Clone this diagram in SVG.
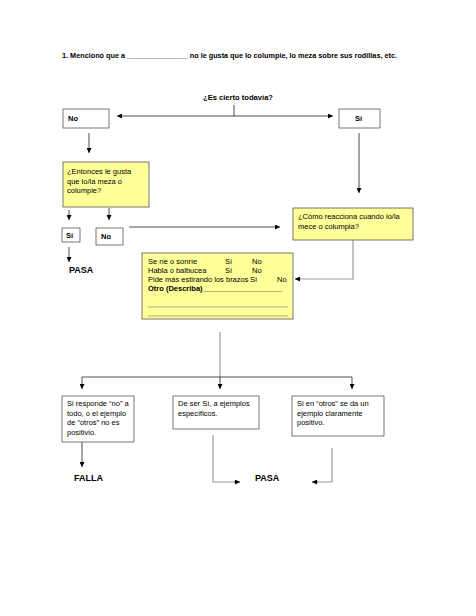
<svg xmlns="http://www.w3.org/2000/svg" width="476" height="616" viewBox="0 0 476 616">
<style>
text{font-family:"Liberation Sans",Arial,sans-serif;font-size:7.5px;fill:#000}
.b{font-weight:bold}
.big{font-weight:bold;font-size:9px}
.box{fill:#fff;stroke:#555;stroke-width:0.8}
.yel{fill:#ffff99;stroke:#555;stroke-width:0.8}
.c{fill:none;stroke:#222;stroke-width:0.8}
.g{fill:none;stroke:#999;stroke-width:1.2}
</style>
<defs>
<marker id="a" viewBox="0 0 6 6" refX="6" refY="3" markerWidth="5" markerHeight="5" markerUnits="userSpaceOnUse" orient="auto"><path d="M0,0L6,3L0,6z" fill="#000"/></marker>
</defs>
<rect width="476" height="616" fill="#fff"/>
<text class="b" x="62" y="58" textLength="335" lengthAdjust="spacingAndGlyphs">1. Mencionó que a _______________ no le gusta que lo columpie, lo meza sobre sus rodillas, etc.</text>
<text class="b" x="203" y="100" textLength="70" lengthAdjust="spacingAndGlyphs">¿Es cierto todavía?</text>
<g id="connectors">
<path class="c" d="M234,105V116"/>
<path class="c" d="M234,116H117" marker-end="url(#a)"/>
<path class="c" d="M234,116H333" marker-end="url(#a)"/>
<path class="c" d="M89,133V153" marker-end="url(#a)"/>
<path class="c" d="M359,133V193" marker-end="url(#a)"/>
<path class="c" d="M69,210V220" marker-end="url(#a)"/>
<path class="c" d="M109,208V220" marker-end="url(#a)"/>
<path class="c" d="M129,227H280" marker-end="url(#a)"/>
<path class="c" d="M69,247V262" marker-end="url(#a)"/>
<path class="g" d="M353,240V279H296"/>
<path class="c" d="M300,279H295" marker-end="url(#a)"/>
<path class="g" d="M220,332V377"/>
<path class="c" d="M82,377H352"/>
<path class="c" d="M82,377V389" marker-end="url(#a)"/>
<path class="c" d="M220,377V389" marker-end="url(#a)"/>
<path class="c" d="M352,377V389" marker-end="url(#a)"/>
<path class="c" d="M82,442V467" marker-end="url(#a)"/>
<path class="g" d="M213,435V482H236"/>
<path class="c" d="M234,482H240" marker-end="url(#a)"/>
<path class="g" d="M332,448V482H316"/>
<path class="c" d="M318,482H312" marker-end="url(#a)"/>
</g>
<g id="no1"><rect class="box" x="63" y="109" width="46" height="19"/><text class="b" x="68" y="121">No</text></g>
<g id="si1"><rect class="box" x="339" y="109" width="41" height="19"/><text class="b" x="355" y="121">Sí</text></g>
<g id="entonces"><rect class="yel" x="63" y="162" width="86" height="45"/>
<text x="67" y="174">¿Entonces  le gusta</text><text x="67" y="183.5">que lo/la meza o</text><text x="67" y="193">columpie?</text></g>
<g id="si2"><rect class="box" x="62" y="228" width="18" height="14"/><text class="b" x="66" y="238">Sí</text></g>
<g id="no2"><rect class="box" x="96" y="228" width="27" height="17"/><text class="b" x="101" y="239">No</text></g>
<g id="pasa1"><text class="big" x="69" y="273">PASA</text></g>
<g id="reacciona"><rect class="yel" x="293" y="208" width="120" height="32"/>
<text x="298" y="219">¿Cómo reacciona cuando lo/la</text><text x="298" y="228.5">mece o columpia?</text></g>
<g id="lista"><rect class="yel" x="142" y="253" width="151" height="66"/>
<text x="148" y="264">Se ríe o sonríe</text><text x="225" y="264">Sí</text><text x="252" y="264">No</text>
<text x="148" y="273">Habla o balbucea</text><text x="225" y="273">Sí</text><text x="252" y="273">No</text>
<text x="148" y="282">Pide más estirando los brazos</text><text x="250" y="282">Sí</text><text x="277" y="282">No</text>
<text class="b" x="148" y="291">Otro (Describa) <tspan x="203" textLength="79" lengthAdjust="spacingAndGlyphs">______________</tspan></text>
<path d="M148,307H288M148,316H288" stroke="#777" stroke-width="0.6"/></g>
<g id="falla-box"><rect class="box" x="62" y="396" width="72" height="46"/>
<text x="67" y="406">Si responde “no” a</text><text x="67" y="415.5">todo, o  el ejemplo</text><text x="67" y="425">de “otros” no es</text><text x="67" y="434.5">positivio.</text></g>
<g id="ejemplos-box"><rect class="box" x="173" y="396" width="86" height="33"/>
<text x="178" y="406">De ser Sí, a ejemplos</text><text x="178" y="415.5">específicos.</text></g>
<g id="otros-box"><rect class="box" x="292" y="396" width="92" height="40"/>
<text x="297" y="406">Si en “otros” se da un</text><text x="297" y="415.5">ejemplo claramente</text><text x="297" y="425">positivo.</text></g>
<g id="falla"><text class="big" x="74" y="481">FALLA</text></g>
<g id="pasa2"><text class="big" x="255" y="481">PASA</text></g>
</svg>
